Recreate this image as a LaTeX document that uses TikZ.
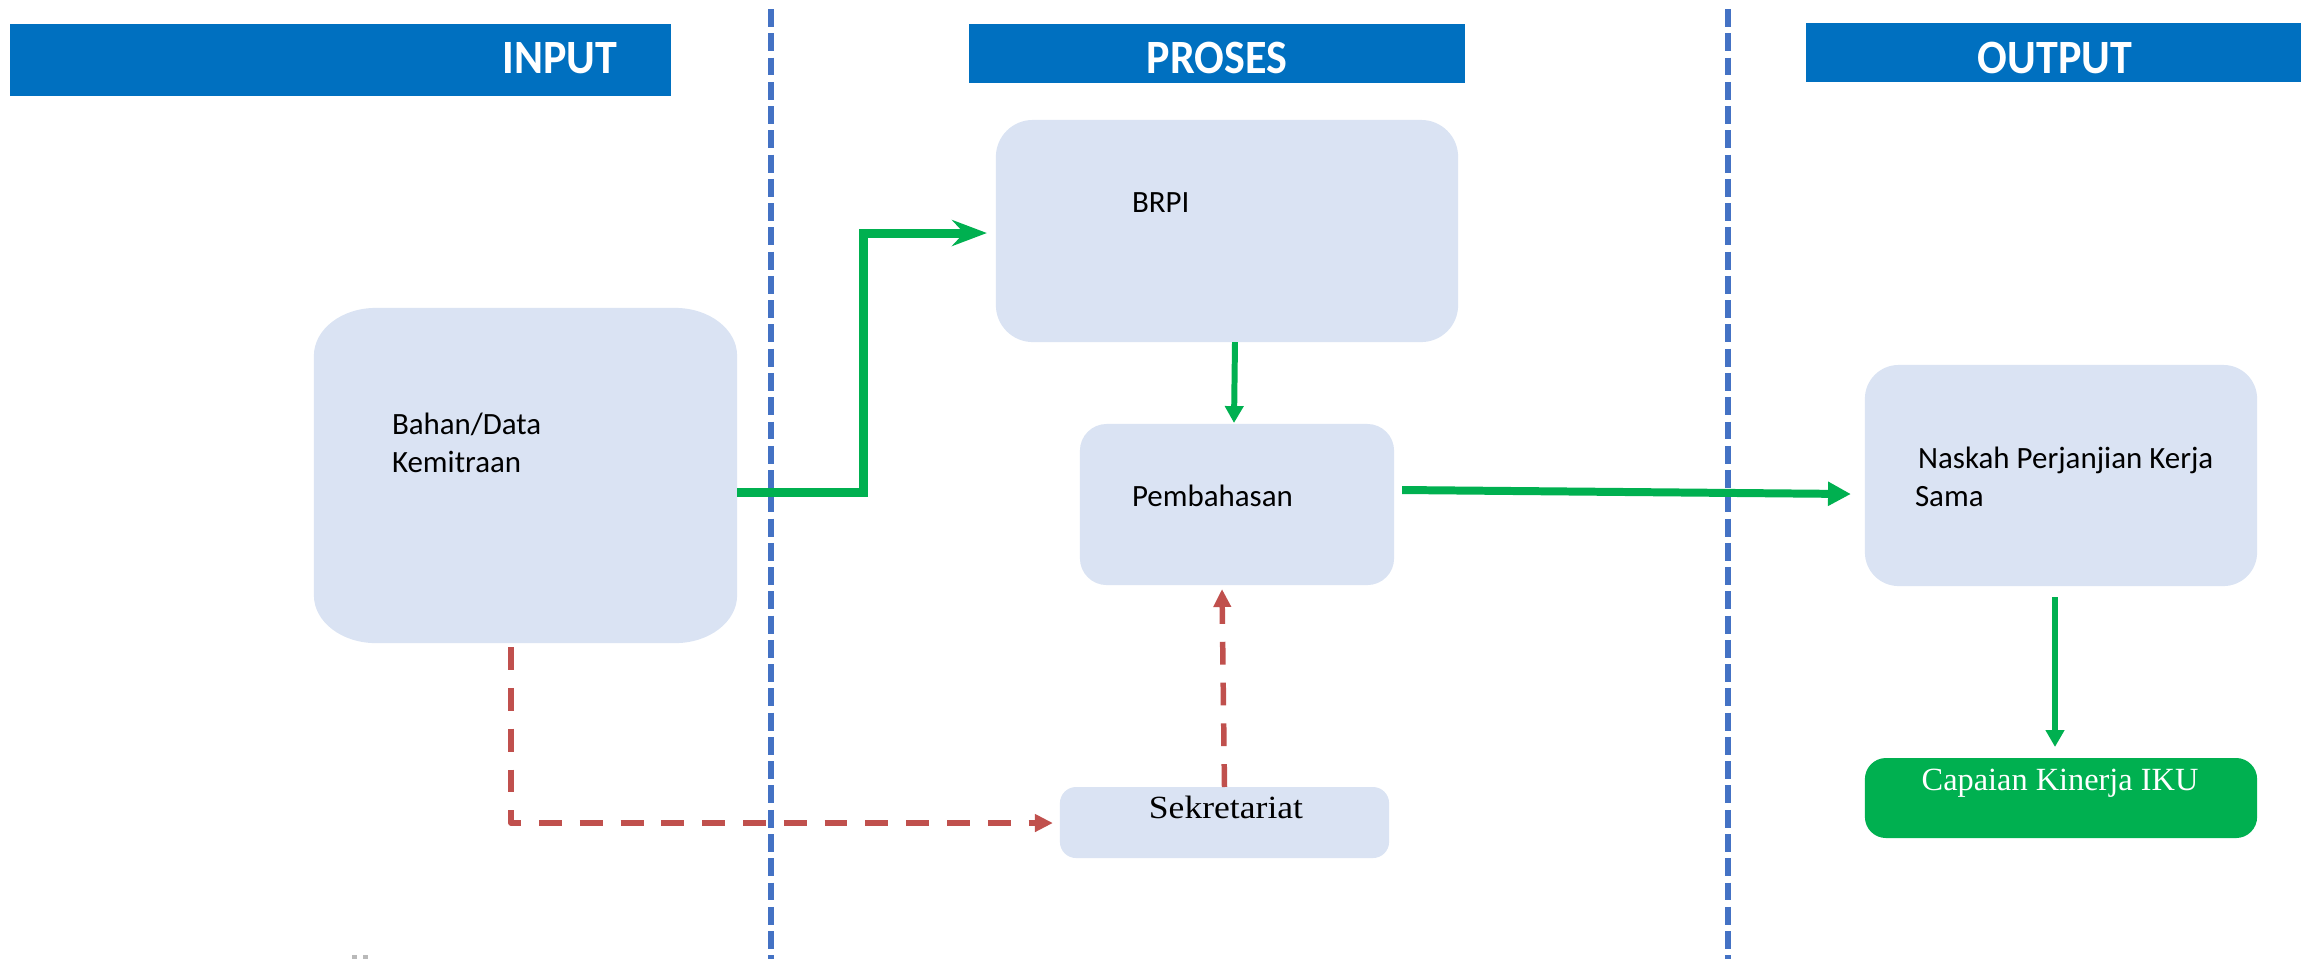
\documentclass[tikz,border=0pt]{standalone}
\usepackage{fontspec}
\setmainfont{Carlito}
\newfontfamily\serifface{Liberation Serif}
\usetikzlibrary{arrows.meta,calc}

\definecolor{hdrblue}{HTML}{0070C0}
\definecolor{boxfill}{HTML}{DAE3F3}
\definecolor{flowgreen}{HTML}{00B050}
\definecolor{backred}{HTML}{C0504D}
\definecolor{laneblue}{HTML}{4472C4}

\begin{document}
\begin{tikzpicture}[x=0.01cm,y=-0.01cm,
  every node/.style={inner sep=0pt,outer sep=0pt},
  hdrbar/.style={fill=hdrblue,draw=none},
  hdrtext/.style={text=white,anchor=base,font=\fontsize{13.6}{16}\selectfont\bfseries},
  procbox/.style={fill=boxfill,draw=none},
  lbl/.style={anchor=base west,font=\fontsize{8.8}{10.8}\selectfont},
  serlbl/.style={anchor=base,font=\fontsize{9.2}{11}\selectfont\serifface},
  lane/.style={draw=laneblue,line width=1.7pt,dash pattern=on 5.1pt off 1.8pt},
  gbig/.style={draw=flowgreen,line width=2.55pt,line join=miter,
    -{Stealth[length=9.9pt,width=7.4pt,inset=3.4pt]}},
  gmid/.style={draw=flowgreen,line width=2.27pt,-{Triangle[length=6.5pt,width=6.5pt]}},
  gthin/.style={draw=flowgreen,line width=1.7pt,-{Triangle[length=4.8pt,width=5.1pt]}},
  rdash/.style={draw=backred,line width=1.56pt,line join=round,
    dash pattern=on 6.5pt off 5.1pt,-{Triangle[length=5.1pt,width=4.8pt]}},
  ecorner/.style={x radius=17.6pt,y radius=13.6pt}
]
\useasboundingbox (0,0) rectangle (2308,959);

% swimlane separators
\draw[lane] (771,9) -- (771,959);
\draw[lane] (1728,9) -- (1728,959);

% column headers
\node[hdrbar,minimum width=6.61cm,minimum height=0.72cm] (hin) at (340.5,60) {};
\node[hdrtext] (hintext) at (560,73) {\scalebox{0.92}[1]{INPUT}};
\node[hdrbar,minimum width=4.96cm,minimum height=0.59cm] (hpro) at (1217,53.5) {};
\node[hdrtext] (hprotext) at (1217,73) {\scalebox{0.92}[1]{PROSES}};
\node[hdrbar,minimum width=4.95cm,minimum height=0.59cm] (hout) at (2053.5,52.5) {};
\node[hdrtext] (houttext) at (2055,73) {\scalebox{0.92}[1]{OUTPUT}};

% input box with elliptical corners
\node[minimum width=4.23cm,minimum height=3.35cm] (bahan) at (525.5,475.5) {};
\fill[boxfill] ([xshift=17.6pt]bahan.north west) -- ([xshift=-17.6pt]bahan.north east)
  arc[start angle=90,end angle=0,ecorner] -- ([yshift=13.6pt]bahan.south east)
  arc[start angle=0,end angle=-90,ecorner] -- ([xshift=17.6pt]bahan.south west)
  arc[start angle=-90,end angle=-180,ecorner] -- ([yshift=-13.6pt]bahan.north west)
  arc[start angle=180,end angle=90,ecorner] -- cycle;
\node[lbl] (bahantext) at (392,434) {\parbox[t]{4cm}{Bahan/Data\\Kemitraan}};

% process boxes
\node[procbox,rounded corners=10.5pt,minimum width=4.62cm,minimum height=2.22cm] (brpi) at (1227,231) {};
\node[lbl] (brpitext) at (1132,212) {BRPI};

\node[procbox,rounded corners=7.6pt,minimum width=3.14cm,minimum height=1.61cm] (pemb) at (1237,504.5) {};
\node[lbl] (pembtext) at (1132,506) {Pembahasan};

\node[procbox,rounded corners=4.6pt,minimum width=3.29cm,minimum height=0.71cm] (sek) at (1224.5,822.5) {};
\node[serlbl] (sektext) at (1226,818) {\scalebox{1.1}[1]{Sekretariat}};

% output boxes
\node[procbox,rounded corners=9.6pt,minimum width=3.92cm,minimum height=2.21cm] (naskah) at (2061,475.5) {};
\node[lbl,font=\fontsize{8.8}{11.06}\selectfont] (naskahtext) at (1915,468)
  {\parbox[t]{4cm}{\hspace*{0.9pt}Naskah Perjanjian Kerja\\Sama}};

\node[fill=flowgreen,rounded corners=6pt,minimum width=3.92cm,minimum height=0.8cm] (capaian) at (2061,798) {};
\node[serlbl,text=white] (capaiantext) at (2060,790) {Capaian Kinerja IKU};

% main flow
\draw[gbig] ($(bahan.east)+(0,16.5)$) -- ++(126,0) |- ($(brpi.west)+(-9,2)$);
\draw[gthin] ($(brpi.south)+(8,0)$) -- ($(pemb.north)+(-3,-1)$);
\draw[gmid] ($(pemb.east)+(8,-14.5)$) -- ($(naskah.west)+(-14,18.5)$);
\draw[gthin] ($(naskah.south)+(-6,11)$) -- ($(capaian.north)+(-6,-11)$);

% secretariat support loop
\draw[rdash] ($(bahan.south)+(-14.5,4)$) |- ($(sek.west)+(-7,0.5)$);
\draw[rdash] (sek.north) -- ($(pemb.south)+(-15,4)$);

% cut-off marks along the bottom edge
\fill[gray!55] (352,955) rectangle (357,959);
\fill[gray!55] (363,955) rectangle (368,959);
\end{tikzpicture}
\end{document}
